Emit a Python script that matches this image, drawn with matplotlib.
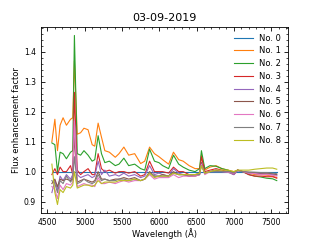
import matplotlib
matplotlib.use("Agg")
import matplotlib.pyplot as plt
from matplotlib.ticker import AutoMinorLocator

plt.rcParams["font.family"] = "DejaVu Sans"
plt.rcParams["xtick.direction"] = "in"
plt.rcParams["ytick.direction"] = "in"
plt.rcParams["xtick.top"] = True
plt.rcParams["ytick.right"] = True

wavelength = [4560, 4600, 4635, 4670, 4710, 4755, 4810, 4840, 4862, 4900,
              4945, 4990, 5045, 5100, 5135, 5180, 5225, 5270, 5330, 5410,
              5460, 5525, 5590, 5670, 5750, 5805, 5870, 5935, 5995, 6045,
              6125, 6190, 6260, 6320, 6400, 6480, 6540, 6565, 6610, 6680,
              6760, 6840, 6920, 7000, 7050, 7120, 7200, 7280, 7360, 7440,
              7520, 7575]

no0 = [1.0] * len(wavelength)
no1 = [1.10, 1.175, 1.07, 1.155, 1.18, 1.155, 1.175, 1.18, 1.37, 1.125,
       1.13, 1.145, 1.14, 1.09, 1.085, 1.162, 1.115, 1.07, 1.065, 1.048,
       1.06, 1.082, 1.055, 1.06, 1.027, 1.035, 1.082, 1.06, 1.05, 1.04,
       1.025, 1.065, 1.04, 1.035, 1.02, 1.01, 1.01, 1.055, 1.005, 1.015,
       1.02, 1.01, 1.005, 1.0, 1.005, 1.0, 0.995, 0.99, 0.99, 0.988,
       0.985, 0.98]
no2 = [1.096, 1.09, 1.0, 1.065, 1.06, 1.043, 1.065, 1.07, 1.455, 1.06,
       1.055, 1.07, 1.055, 1.035, 1.04, 1.12, 1.06, 1.03, 1.035, 1.02,
       1.025, 1.045, 1.02, 1.025, 1.01, 1.005, 1.075, 1.035, 1.03, 1.02,
       1.01, 1.055, 1.025, 1.015, 1.005, 1.0, 1.01, 1.07, 1.01, 1.02,
       1.018, 1.01, 1.005, 0.995, 1.005, 1.0, 0.99, 0.985, 0.982, 0.978,
       0.976, 0.97]
no3 = [0.99, 1.01, 0.99, 1.015, 1.0, 1.0, 1.02, 0.99, 1.265, 1.005,
       0.99, 1.0, 1.01, 0.99, 0.99, 1.06, 1.01, 1.0, 1.005, 0.995,
       1.0, 1.0, 0.995, 1.0, 0.985, 0.99, 1.035, 1.0, 1.0, 1.0,
       0.995, 1.015, 1.0, 1.0, 0.99, 0.99, 0.995, 1.05, 1.0, 1.005,
       1.01, 1.005, 1.0, 0.99, 1.005, 1.0, 0.99, 0.985, 0.985, 0.983,
       0.983, 0.978]
no4 = [0.93, 0.97, 0.94, 0.985, 0.97, 0.99, 0.975, 0.99, 1.17, 0.99,
       0.98, 0.985, 0.99, 0.98, 0.985, 1.035, 0.99, 1.005, 0.985, 0.99,
       0.985, 0.995, 0.985, 0.99, 0.98, 0.985, 1.02, 0.99, 0.995, 0.99,
       0.985, 1.01, 0.995, 0.99, 0.985, 0.99, 0.99, 1.03, 0.995, 1.0,
       1.005, 1.0, 0.998, 0.99, 1.003, 1.0, 0.995, 0.995, 0.993, 0.992,
       0.99, 0.988]
no5 = [0.96, 0.975, 0.95, 0.975, 0.97, 0.975, 0.97, 0.98, 1.12, 0.965,
       0.97, 0.975, 0.97, 0.965, 0.97, 1.0, 0.975, 0.975, 0.97, 0.975,
       0.975, 0.98, 0.975, 0.98, 0.97, 0.975, 1.0, 0.985, 0.985, 0.99,
       0.985, 1.0, 0.99, 0.99, 0.985, 0.985, 0.99, 1.03, 0.995, 1.0,
       1.005, 1.0, 1.0, 0.995, 1.005, 1.0, 0.998, 0.997, 0.995, 0.995,
       0.993, 0.99]
no6 = [0.95, 0.94, 0.91, 0.955, 0.94, 0.96, 0.955, 0.965, 1.17, 0.95,
       0.955, 0.96, 0.955, 0.955, 0.95, 0.98, 0.96, 0.96, 0.965, 0.96,
       0.965, 0.97, 0.965, 0.97, 0.97, 0.975, 0.99, 0.975, 0.98, 0.98,
       0.98, 0.99, 0.98, 0.985, 0.985, 0.985, 0.99, 1.025, 0.99, 1.0,
       1.0, 1.0, 0.998, 0.995, 1.003, 1.0, 0.995, 0.993, 0.99, 0.99,
       0.988, 0.985]
no7 = [0.97, 0.96, 0.93, 0.97, 0.96, 0.985, 0.965, 0.975, 1.05, 0.96,
       0.965, 0.975, 0.965, 0.96, 0.965, 0.99, 0.97, 0.975, 0.97, 0.97,
       0.975, 0.975, 0.97, 0.975, 0.97, 0.975, 0.995, 0.985, 0.985, 0.985,
       0.985, 0.995, 0.99, 0.99, 0.99, 0.99, 0.99, 1.02, 0.995, 1.0,
       1.0, 1.0, 1.0, 0.997, 1.003, 1.0, 0.998, 0.998, 0.997, 0.997,
       0.995, 0.993]
no8 = [1.025, 0.93, 0.89, 0.94, 0.93, 0.95, 0.945, 0.955, 1.0, 0.945,
       0.95, 0.955, 0.955, 0.95, 0.955, 0.97, 0.96, 0.965, 0.965, 0.965,
       0.97, 0.97, 0.97, 0.975, 0.97, 0.975, 0.995, 0.98, 0.985, 0.985,
       0.985, 0.995, 0.99, 0.99, 0.99, 0.99, 0.995, 1.02, 0.995, 1.0,
       1.005, 1.005, 1.005, 1.0, 1.005, 1.005, 1.005, 1.008, 1.01, 1.012,
       1.012, 1.008]

series = [no0, no1, no2, no3, no4, no5, no6, no7, no8]
labels = ["No. %d" % i for i in range(len(series))]

fig = plt.figure(figsize=(3.2, 2.4), dpi=100)
ax = fig.add_axes([0.127, 0.1125, 0.773, 0.775])

for vals, lab in zip(series, labels):
    ax.plot(wavelength, vals, linewidth=0.8, label=lab)

ax.set_xticks([4500, 5000, 5500, 6000, 6500, 7000, 7500])
ax.xaxis.set_minor_locator(AutoMinorLocator(5))
ax.yaxis.set_minor_locator(AutoMinorLocator(5))
ax.tick_params(which="major", labelsize=5.5, length=3, width=0.6)
ax.tick_params(which="minor", length=1.5, width=0.5)
for sp in ax.spines.values():
    sp.set_linewidth(0.6)

ax.set_xlabel("Wavelength (Å)", fontsize=6, labelpad=1)
ax.set_ylabel("Flux enhancement factor", fontsize=6, labelpad=2)
ax.set_title("03-09-2019", fontsize=8, pad=4)
ax.legend(loc="upper right", fontsize=6, frameon=False, handlelength=2.2,
          labelspacing=0.45, borderaxespad=0.4)

fig.savefig("out.png", dpi=100)
